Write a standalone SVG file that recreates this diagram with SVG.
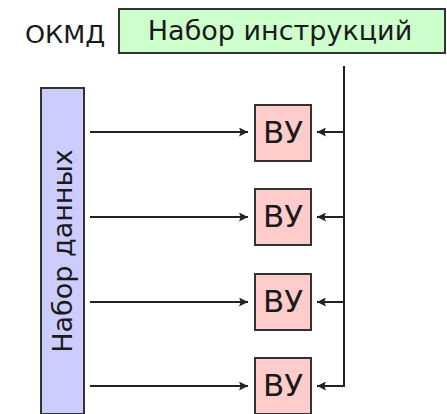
<svg xmlns="http://www.w3.org/2000/svg" width="447" height="414" viewBox="0 0 447 414">
<style>
text{font-family:"DejaVu Sans","Liberation Sans",sans-serif;fill:#1a1a1a}
.box{stroke:#333;stroke-width:2}
.ln{stroke:#222;stroke-width:2;fill:none}
</style>
<defs>
<marker id="ah" viewBox="0 0 10 10" refX="10" refY="5" markerWidth="4.5" markerHeight="4.5" orient="auto" markerUnits="strokeWidth">
<path d="M0,0 L10,5 L0,10 L2,5 z" fill="#222"/>
</marker>
</defs>
<rect width="447" height="414" fill="#fff"/>
<g id="okmd"><text x="25" y="43" font-size="25.5">ОКМД</text></g>
<g id="instr">
<rect class="box" x="119" y="9" width="326" height="44" fill="#ccffcc"/>
<text x="280" y="40" font-size="27" text-anchor="middle">Набор инструкций</text>
</g>
<g id="data">
<rect class="box" x="41" y="88" width="43" height="326" fill="#ccccff"/>
<text transform="translate(72,251) rotate(-90)" font-size="27" text-anchor="middle">Набор данных</text>
</g>
<g id="vu1"><rect class="box" x="255" y="105" width="56" height="56" fill="#ffcccc"/><text x="283" y="143" font-size="31" text-anchor="middle">ВУ</text></g>
<g id="vu2"><rect class="box" x="255" y="189" width="56" height="56" fill="#ffcccc"/><text x="283" y="227" font-size="31" text-anchor="middle">ВУ</text></g>
<g id="vu3"><rect class="box" x="255" y="274" width="56" height="56" fill="#ffcccc"/><text x="283" y="312" font-size="31" text-anchor="middle">ВУ</text></g>
<g id="vu4"><rect class="box" x="255" y="358" width="56" height="56" fill="#ffcccc"/><text x="283" y="396" font-size="31" text-anchor="middle">ВУ</text></g>
<g id="connectors">
<path class="ln" d="M90,132 H248" marker-end="url(#ah)"/>
<path class="ln" d="M90,217 H248" marker-end="url(#ah)"/>
<path class="ln" d="M90,302 H248" marker-end="url(#ah)"/>
<path class="ln" d="M90,386 H248" marker-end="url(#ah)"/>
<path class="ln" d="M344,66 V386"/>
<path class="ln" d="M344,132 H317" marker-end="url(#ah)"/>
<path class="ln" d="M344,217 H317" marker-end="url(#ah)"/>
<path class="ln" d="M344,302 H317" marker-end="url(#ah)"/>
<path class="ln" d="M345,386 H317" marker-end="url(#ah)"/>
</g>
</svg>
